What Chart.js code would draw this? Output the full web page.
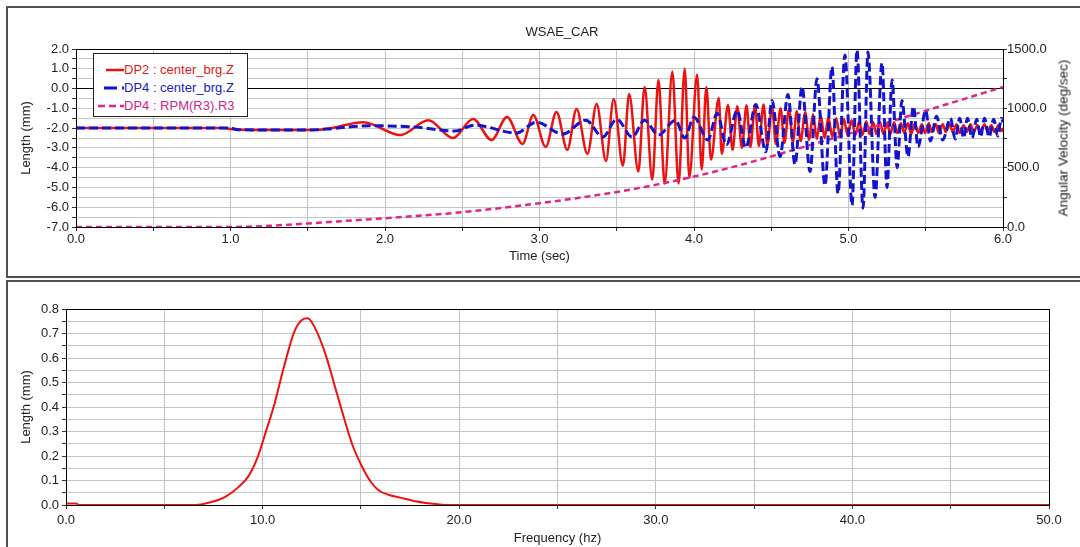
<!DOCTYPE html>
<html lang="en">
<head>
<meta charset="UTF-8">
<title>WSAE_CAR</title>
<script src="https://cdn.jsdelivr.net/npm/chart.js"></script>
<style>
  body { margin: 0; width: 1080px; height: 547px; background: #fff; position: relative; overflow: hidden;
         font-family: "Liberation Sans", Arial, sans-serif; }
  .panel { position: absolute; left: 6px; width: 1120px; border: 2px solid #505050; box-sizing: border-box; }
  #topPanel { top: 6px; height: 272px; }
  #botPanel { top: 280px; height: 300px; }
  canvas { position: absolute; left: 0; }
  #timeChart { top: 0; }
  #freqChart { top: 281px; }
  .txt { position: absolute; color: #222; font-size: 13px; white-space: nowrap; }
  #title { left: 562px; top: 31px; transform: translate(-50%, -50%); }
  #rightTitle { left: 1063px; top: 138px; transform: translate(-50%, -50%) rotate(-90deg); font-size: 13.5px; color: #1a1a1a; }
  #legend { position: absolute; left: 93px; top: 53px; width: 155px; height: 64px; box-sizing: border-box;
            border: 1px solid #222; background: #fff; font-size: 13px; }
  #legend div { position: absolute; left: 0; height: 16px; line-height: 16px; }
  #legend svg { position: absolute; left: 2px; top: 0; }
  #legend span { position: absolute; left: 30px; top: 0; white-space: nowrap; }
</style>
</head>
<body>
  <div class="panel" id="topPanel"></div>
  <div class="panel" id="botPanel"></div>
  <canvas id="timeChart" width="1080" height="277"></canvas>
  <canvas id="freqChart" width="1080" height="266"></canvas>
  <div class="txt" id="title">WSAE_CAR</div>
  <div class="txt" id="rightTitle">Angular Velocity (deg/sec)</div>
  <div id="legend">
    <div style="top:8px"><svg width="28" height="16"><line x1="10" y1="8" x2="28" y2="8" stroke="#e81010" stroke-width="2.5"/></svg><span style="color:#e01818">DP2 : center_brg.Z</span></div>
    <div style="top:26px"><svg width="28" height="16"><line x1="8" y1="8" x2="30" y2="8" stroke="#1414cc" stroke-width="3" stroke-dasharray="13,5"/></svg><span style="color:#2020c0">DP4 : center_brg.Z</span></div>
    <div style="top:44px"><svg width="28" height="16"><line x1="2" y1="8" x2="28" y2="8" stroke="#e0268a" stroke-width="2.5" stroke-dasharray="7,4"/></svg><span style="color:#d02585">DP4 : RPM(R3).R3</span></div>
  </div>

<script>
// ---- data ----
// DP2 : center_brg.Z (mm) vs time (sec)
const redTime = [0, 0.95, 1.05, 1.55, 1.65, 1.86, 2.1, 2.28, 2.44, 2.57, 2.69, 2.79, 2.89, 2.96, 3.04, 3.11, 3.18, 3.24,
  3.31, 3.37, 3.43, 3.48, 3.54, 3.58, 3.64, 3.68, 3.73, 3.77, 3.81, 3.86, 3.9, 3.94, 3.97, 4.02, 4.05, 4.08, 4.11,
  4.16, 4.18, 4.22, 4.25, 4.28, 4.31, 4.34, 4.365, 4.395, 4.42, 4.45, 4.475, 4.505, 4.53, 4.56, 4.585, 4.615, 4.64,
  4.665, 4.69, 4.72, 4.745, 4.77, 4.795, 4.82, 4.845, 4.87, 4.895, 4.92, 4.945, 4.97, 4.995, 5.02, 5.045, 5.07, 5.09,
  5.115, 5.135, 5.16, 5.18, 5.205, 5.225, 5.25, 5.27, 5.295, 5.315, 5.34, 5.36, 5.385, 5.405, 5.43, 5.45, 5.475,
  5.495, 5.52, 5.54, 5.565, 5.585, 5.61, 5.63, 5.655, 5.675, 5.7, 5.72, 5.745, 5.765, 5.79, 5.81, 5.835, 5.855, 5.88,
  5.9, 5.925, 5.945, 5.97, 5.99, 6.0];
const redLen = [-2.0, -2.0, -2.08, -2.1, -2.0, -1.7, -2.35, -1.6, -2.5, -1.54, -2.6, -1.44, -2.8, -1.34, -2.95, -1.18,
  -3.1, -1.03, -3.3, -0.78, -3.66, -0.53, -3.9, -0.28, -4.2, 0.08, -4.6, 0.43, -4.8, 0.85, -4.8, 1.0, -4.5, 0.7, -4.1,
  0.08, -3.6, -0.48, -3.3, -0.83, -3.1, -0.9, -3.0, -0.85, -2.95, -0.85, -2.9, -0.8, -2.85, -0.9, -2.8, -1.0, -2.75,
  -1.05, -2.7, -1.15, -2.65, -1.2, -2.6, -1.3, -2.55, -1.35, -2.5, -1.45, -2.45, -1.5, -2.4, -1.55, -2.4, -1.6, -2.35,
  -1.65, -2.35, -1.65, -2.3, -1.7, -2.3, -1.7, -2.3, -1.75, -2.3, -1.7, -2.25, -1.75, -2.25, -1.75, -2.3, -1.75,
  -2.25, -1.8, -2.25, -1.75, -2.2, -1.8, -2.25, -1.8, -2.2, -1.8, -2.2, -1.8, -2.25, -1.85, -2.2, -1.8, -2.2, -1.85,
  -2.2, -1.8, -2.15, -1.85, -2.2, -1.85, -2.15, -2.0];

// DP4 : center_brg.Z (mm) vs time (sec)
const blueTime = [0, 1.0, 1.05, 1.5, 1.62, 1.9, 2.2, 2.45, 2.58, 2.85, 2.98, 3.15, 3.3, 3.41, 3.5, 3.6, 3.68, 3.77,
  3.88, 3.94, 4.0, 4.09, 4.15, 4.21, 4.28, 4.335, 4.4, 4.465, 4.505, 4.557, 4.608, 4.654, 4.699, 4.751, 4.796, 4.848,
  4.893, 4.932, 4.977, 5.023, 5.055, 5.094, 5.126, 5.172, 5.217, 5.249, 5.282, 5.315, 5.346, 5.385, 5.42, 5.45, 5.5,
  5.53, 5.57, 5.61, 5.66, 5.69, 5.72, 5.745, 5.77, 5.8, 5.83, 5.855, 5.88, 5.91, 5.94, 5.965, 5.99, 6.0];
const blueLen = [-2.0, -2.0, -2.08, -2.1, -2.05, -1.88, -1.95, -2.15, -1.85, -2.25, -1.7, -2.3, -1.6, -2.45, -1.55,
  -2.45, -1.6, -2.35, -1.6, -2.5, -1.45, -2.6, -1.25, -2.85, -1.1, -3.0, -0.8, -3.2, -0.6, -3.45, -0.3, -3.85, 0.1,
  -4.2, 0.5, -4.9, 1.1, -5.3, 1.7, -5.9, 1.95, -6.05, 1.85, -5.5, 1.3, -5.0, 0.43, -4.0, -0.6, -3.45, -0.9, -2.95,
  -1.1, -2.65, -1.4, -2.6, -1.5, -2.55, -1.5, -2.5, -1.5, -2.5, -1.55, -2.45, -1.5, -2.45, -1.55, -2.4, -1.5, -1.7];

// DP4 : RPM(R3).R3 (deg/sec) vs time (sec)
const rpmTime = [0, 1.0, 1.25, 1.5, 1.75, 2.0, 2.25, 2.5, 2.75, 3.0, 3.25, 3.5, 3.75, 4.0, 4.25, 4.5, 4.75, 5.0,
  5.25, 5.5, 5.75, 6.0];
const rpmVel = [0, 0, 10, 30, 52, 74, 98, 125, 160, 200, 245, 295, 355, 425, 505, 595, 690, 785, 880, 980, 1080, 1180];

// spectrum: Length (mm) vs Frequency (hz)
const freqHz = [0, 0.5, 0.7, 6.6, 7.4, 8.1, 8.8, 9.3, 9.75, 10.15, 10.56, 11.08, 11.6, 12.0, 12.3, 12.65, 13.18,
  13.87, 14.57, 15.1, 15.5, 15.9, 16.4, 17.0, 17.7, 18.4, 18.9, 19.2, 50];
const freqLen = [0.006, 0.006, 0, 0, 0.012, 0.033, 0.075, 0.12, 0.195, 0.295, 0.40, 0.562, 0.705, 0.755, 0.762,
  0.725, 0.62, 0.43, 0.245, 0.15, 0.095, 0.06, 0.042, 0.03, 0.016, 0.007, 0.003, 0, 0];

// tick labels
const timeTicks = [0, 1, 2, 3, 4, 5, 6];
const lenTicks = [-7, -6, -5, -4, -3, -2, -1, 0, 1, 2];
const velTicks = [0, 500, 1000, 1500];
const freqTicks = [0, 10, 20, 30, 40, 50];
const specTicks = [0, 0.1, 0.2, 0.3, 0.4, 0.5, 0.6, 0.7, 0.8];

const RED = '#ec1212';
const BLUE = '#1414cc';
const MAGENTA = '#e0268a';
const GRID = '#c4c4c4';
const TXT = '#222';

Chart.defaults.font.family = '"Liberation Sans", Arial, sans-serif';
Chart.defaults.font.size = 13;
Chart.defaults.color = TXT;

const pts = (xs, ys) => xs.map((x, i) => ({ x: x, y: ys[i] }));
const near = (list, v) => list.some(t => Math.abs(t - v) < 1e-6);

// black outline around the plot area
const frame = {
  id: 'frame',
  afterDraw(chart) {
    const a = chart.chartArea, c = chart.ctx;
    c.save();
    c.strokeStyle = '#000';
    c.lineWidth = 1;
    c.strokeRect(Math.round(a.left) + 0.5, Math.round(a.top) + 0.5, Math.round(a.right - a.left), Math.round(a.bottom - a.top));
    c.restore();
  }
};

new Chart(document.getElementById('timeChart'), {
  type: 'line',
  data: {
    datasets: [
      { label: 'DP4 : center_brg.Z', data: pts(blueTime, blueLen), borderColor: BLUE, borderWidth: 3, borderDash: [9, 4], yAxisID: 'y' },
      { label: 'DP4 : RPM(R3).R3', data: pts(rpmTime, rpmVel), borderColor: MAGENTA, borderWidth: 2.5, borderDash: [6, 4], yAxisID: 'y2' },
      { label: 'DP2 : center_brg.Z', data: pts(redTime, redLen), borderColor: RED, borderWidth: 2.5, yAxisID: 'y' }
    ]
  },
  options: {
    responsive: false,
    animation: false,
    elements: { point: { radius: 0 }, line: { cubicInterpolationMode: 'monotone' } },
    layout: { padding: { top: 49, left: 0, right: 0, bottom: 0 } },
    plugins: { legend: { display: false }, tooltip: { enabled: false } },
    scales: {
      x: {
        type: 'linear', min: 0, max: 6,
        ticks: { stepSize: 0.5, autoSkip: false, maxRotation: 0, padding: 1,
          callback: v => near(timeTicks, v) ? v.toFixed(1) : '' },
        grid: { color: GRID, tickLength: 4, tickColor: '#333' },
        border: { color: '#000' },
        title: { display: true, text: 'Time (sec)', padding: { top: 0, bottom: 13 } },
        afterFit: s => { s.height = 50; }
      },
      y: {
        min: -7, max: 2,
        ticks: { stepSize: 0.5, autoSkip: false, padding: 3,
          callback: v => near(lenTicks, v) ? v.toFixed(1) : '' },
        grid: { color: c => (c.tick && c.tick.value === 0) ? '#000' : GRID, tickLength: 4, tickColor: '#333' },
        border: { color: '#000' },
        title: { display: true, text: 'Length (mm)', padding: { top: 19, bottom: 0 } },
        afterFit: s => { s.width = 76; }
      },
      y2: {
        position: 'right', min: 0, max: 1500,
        ticks: { stepSize: 250, autoSkip: false, padding: 0,
          callback: v => near(velTicks, v) ? v.toFixed(1) : '' },
        grid: { drawOnChartArea: false, tickLength: 4, tickColor: '#333' },
        border: { color: '#000' },
        afterFit: s => { s.width = 77; }
      }
    }
  },
  plugins: [frame]
});

new Chart(document.getElementById('freqChart'), {
  type: 'line',
  data: {
    datasets: [
      { label: 'Length', data: pts(freqHz, freqLen), borderColor: RED, borderWidth: 2, cubicInterpolationMode: 'monotone' }
    ]
  },
  options: {
    responsive: false,
    animation: false,
    elements: { point: { radius: 0 } },
    layout: { padding: { top: 28, left: 0, right: 31, bottom: 0 } },
    plugins: { legend: { display: false }, tooltip: { enabled: false } },
    scales: {
      x: {
        type: 'linear', min: 0, max: 50,
        ticks: { stepSize: 5, autoSkip: false, maxRotation: 0, padding: 4,
          callback: v => near(freqTicks, v) ? v.toFixed(1) : '' },
        grid: { color: GRID, tickLength: 4, tickColor: '#333' },
        border: { color: '#000' },
        title: { display: true, text: 'Frequency (hz)', padding: { top: 0, bottom: 1 } },
        afterFit: s => { s.height = 42; }
      },
      y: {
        min: 0, max: 0.8,
        ticks: { stepSize: 0.05, autoSkip: false, padding: 3,
          callback: v => near(specTicks, v) ? v.toFixed(1) : '' },
        grid: { color: GRID, tickLength: 4, tickColor: '#333' },
        border: { color: '#000' },
        title: { display: true, text: 'Length (mm)', padding: { top: 19, bottom: 0 } },
        afterFit: s => { s.width = 66; }
      }
    }
  },
  plugins: [frame]
});
</script>
</body>
</html>
